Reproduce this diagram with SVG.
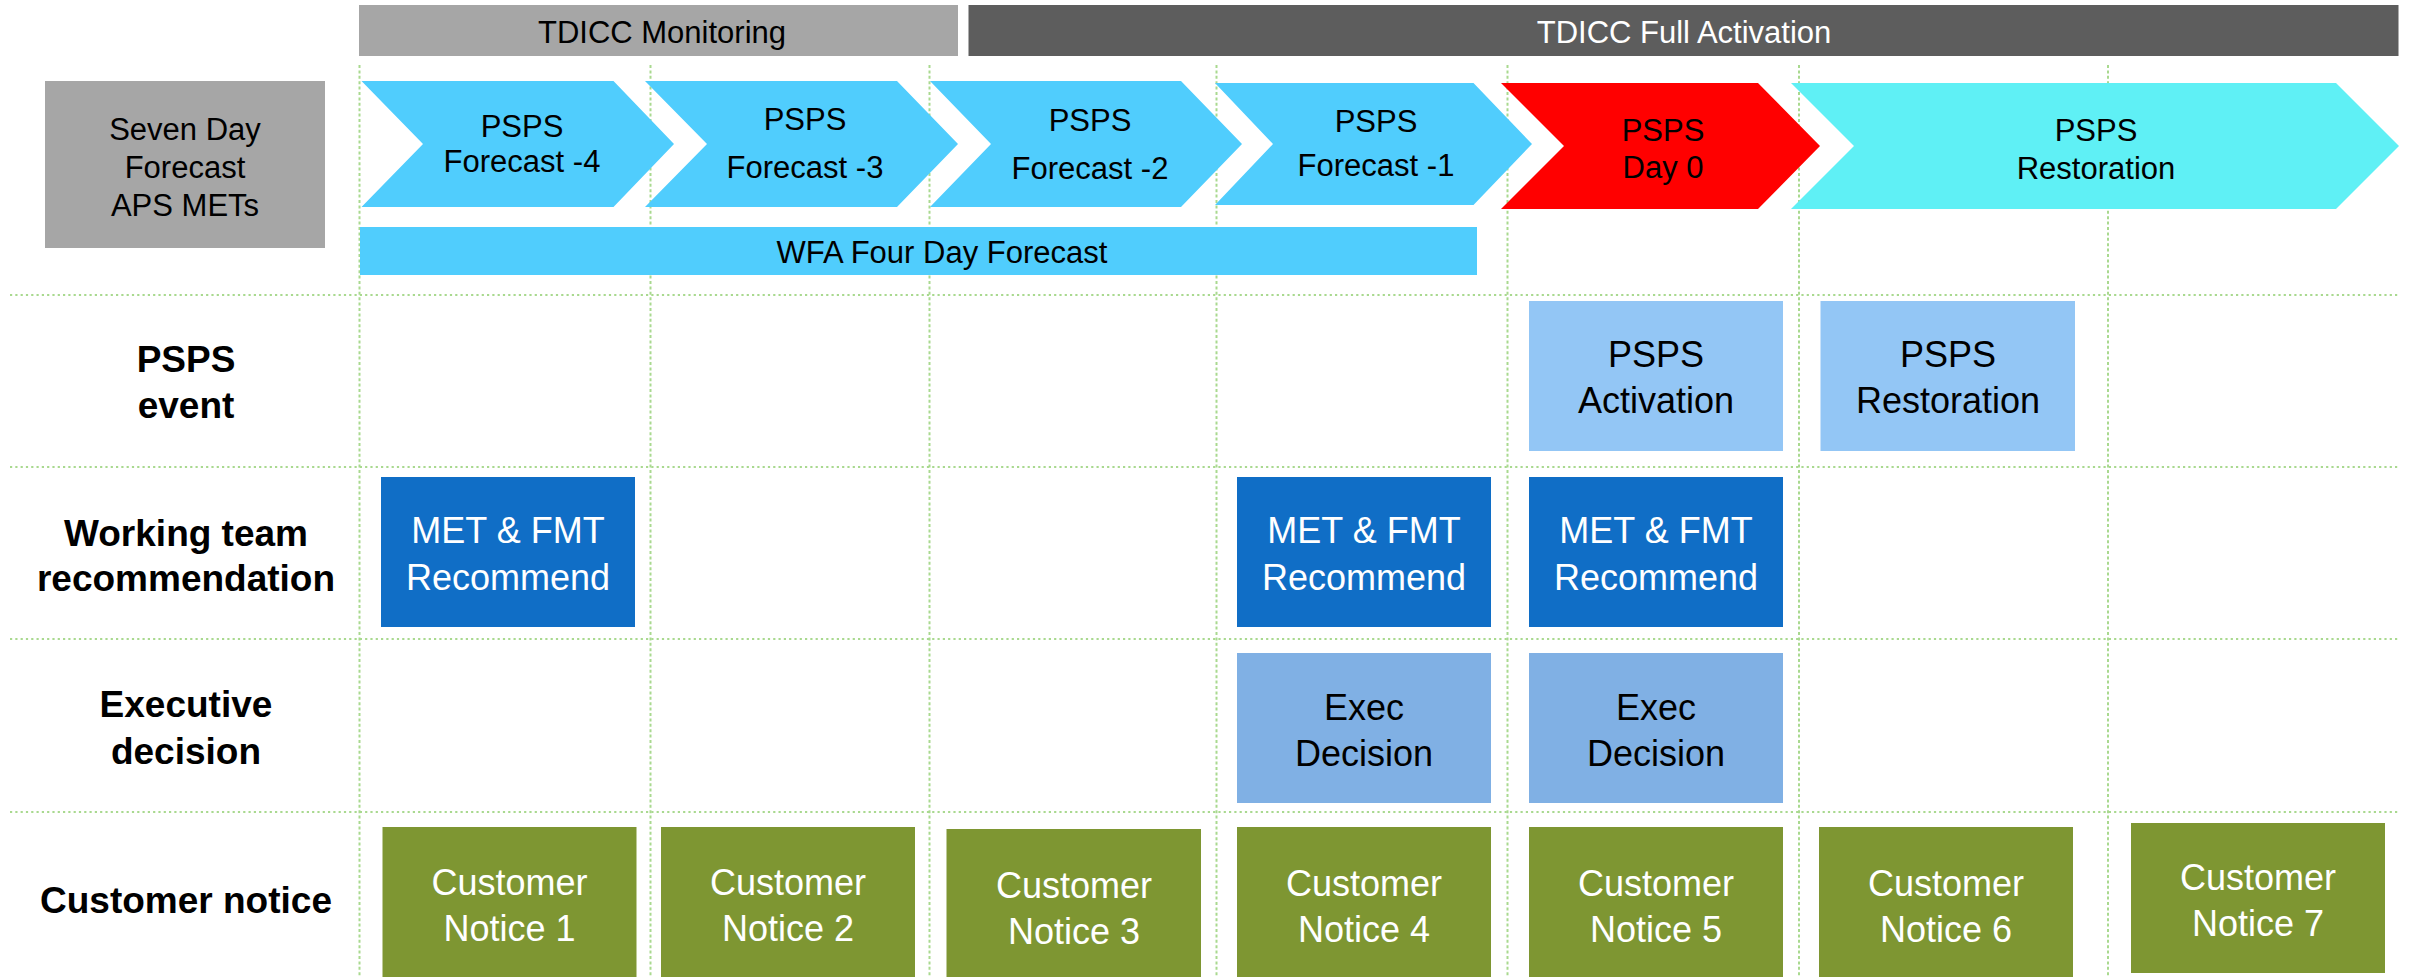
<svg xmlns="http://www.w3.org/2000/svg" width="2414" height="977" viewBox="0 0 2414 977">
<style>
text{font-family:"Liberation Sans",Arial,sans-serif;text-anchor:middle}
.t31{font-size:31px;fill:#000}
.w31{font-size:31px;fill:#fff}
.lbl{font-size:37px;font-weight:bold;fill:#000}
.bt{font-size:36px;fill:#000}
.wt{font-size:36px;fill:#fff}
.hl{stroke:#A9D98F;stroke-width:2.2;stroke-dasharray:2.2 3.1;fill:none}
.vl{stroke:#A9D98F;stroke-width:2;stroke-dasharray:3 2.4;fill:none}
.chev{fill:#50CDFD}
.evt{fill:#93C6F5}
.met{fill:#106EC6}
.exe{fill:#80B0E4}
.cn{fill:#7E9632}
</style>
<rect width="2414" height="977" fill="#fff"/>
<g id="grid">
<line class="hl" x1="10" y1="295" x2="2398" y2="295"/>
<line class="hl" x1="10" y1="467" x2="2398" y2="467"/>
<line class="hl" x1="10" y1="639" x2="2398" y2="639"/>
<line class="hl" x1="10" y1="812" x2="2398" y2="812"/>
<line class="vl" x1="359.5" y1="65" x2="359.5" y2="977"/>
<line class="vl" x1="650.5" y1="65" x2="650.5" y2="977"/>
<line class="vl" x1="929.5" y1="65" x2="929.5" y2="977"/>
<line class="vl" x1="1216.5" y1="65" x2="1216.5" y2="977"/>
<line class="vl" x1="1507.5" y1="65" x2="1507.5" y2="977"/>
<line class="vl" x1="1799" y1="65" x2="1799" y2="977"/>
<line class="vl" x1="2108" y1="65" x2="2108" y2="977"/>
</g>
<g id="connectors"></g>
<g id="tdicc-monitoring">
<rect x="359" y="5" width="599" height="51" fill="#A6A6A6"/>
<text class="t31" x="662" y="43">TDICC Monitoring</text>
</g>
<g id="tdicc-full">
<rect x="968.5" y="5" width="1430" height="51" fill="#5D5D5D"/>
<text class="w31" x="1684" y="43">TDICC Full Activation</text>
</g>
<g id="seven-day">
<rect x="45" y="81" width="280" height="167" fill="#A6A6A6"/>
<text class="t31" x="185" y="140">Seven Day</text>
<text class="t31" x="185" y="178">Forecast</text>
<text class="t31" x="185" y="216">APS METs</text>
</g>
<g id="forecast-4">
<polygon class="chev" points="361.5,81 613.5,81 674,144 613.5,207 361.5,207 423,144"/>
<text class="t31" x="522" y="137">PSPS</text>
<text class="t31" x="522" y="172">Forecast -4</text>
</g>
<g id="forecast-3">
<polygon class="chev" points="645,81 897,81 958,144 897,207 645,207 707,144"/>
<text class="t31" x="805" y="130">PSPS</text>
<text class="t31" x="805" y="178">Forecast -3</text>
</g>
<g id="forecast-2">
<polygon class="chev" points="930,81 1181,81 1242,144 1181,207 930,207 991,144"/>
<text class="t31" x="1090" y="131">PSPS</text>
<text class="t31" x="1090" y="179">Forecast -2</text>
</g>
<g id="forecast-1">
<polygon class="chev" points="1215,83 1473.5,83 1532,144 1473.5,205 1215,205 1273,144"/>
<text class="t31" x="1376" y="132">PSPS</text>
<text class="t31" x="1376" y="176">Forecast -1</text>
</g>
<g id="day-0">
<polygon fill="#FF0000" points="1501,83 1758,83 1820,146 1758,209 1501,209 1564,146"/>
<text class="t31" x="1663" y="141">PSPS</text>
<text class="t31" x="1663" y="178">Day 0</text>
</g>
<g id="restoration">
<polygon fill="#5FF0F5" points="1791,83 2336,83 2399,146 2336,209 1791,209 1854,146"/>
<text class="t31" x="2096" y="141">PSPS</text>
<text class="t31" x="2096" y="179">Restoration</text>
</g>
<g id="wfa">
<rect x="360" y="227" width="1117" height="48" fill="#50CDFD"/>
<text class="t31" x="942" y="263">WFA Four Day Forecast</text>
</g>
<g id="label-psps-event">
<text class="lbl" x="186" y="372">PSPS</text>
<text class="lbl" x="186" y="418">event</text>
</g>
<g id="label-working-team">
<text class="lbl" x="186" y="546">Working team</text>
<text class="lbl" x="186" y="591">recommendation</text>
</g>
<g id="label-executive">
<text class="lbl" x="186" y="717">Executive</text>
<text class="lbl" x="186" y="764">decision</text>
</g>
<g id="label-customer">
<text class="lbl" x="186" y="913">Customer notice</text>
</g>
<g id="psps-activation">
<rect class="evt" x="1529" y="301" width="254" height="150"/>
<text class="bt" x="1656" y="367">PSPS</text>
<text class="bt" x="1656" y="413">Activation</text>
</g>
<g id="psps-restoration">
<rect class="evt" x="1820.5" y="301" width="254.5" height="150"/>
<text class="bt" x="1948" y="367">PSPS</text>
<text class="bt" x="1948" y="413">Restoration</text>
</g>
<g id="met-1">
<rect class="met" x="381" y="477" width="254" height="150"/>
<text class="wt" x="508" y="543">MET &amp; FMT</text>
<text class="wt" x="508" y="590">Recommend</text>
</g>
<g id="met-2">
<rect class="met" x="1237" y="477" width="254" height="150"/>
<text class="wt" x="1364" y="543">MET &amp; FMT</text>
<text class="wt" x="1364" y="590">Recommend</text>
</g>
<g id="met-3">
<rect class="met" x="1529" y="477" width="254" height="150"/>
<text class="wt" x="1656" y="543">MET &amp; FMT</text>
<text class="wt" x="1656" y="590">Recommend</text>
</g>
<g id="exec-1">
<rect class="exe" x="1237" y="653" width="254" height="150"/>
<text class="bt" x="1364" y="720">Exec</text>
<text class="bt" x="1364" y="766">Decision</text>
</g>
<g id="exec-2">
<rect class="exe" x="1529" y="653" width="254" height="150"/>
<text class="bt" x="1656" y="720">Exec</text>
<text class="bt" x="1656" y="766">Decision</text>
</g>
<g id="notice-1">
<rect class="cn" x="382.5" y="827" width="254" height="150"/>
<text class="wt" x="509.5" y="895">Customer</text>
<text class="wt" x="509.5" y="941">Notice 1</text>
</g>
<g id="notice-2">
<rect class="cn" x="661" y="827" width="254" height="150"/>
<text class="wt" x="788" y="895">Customer</text>
<text class="wt" x="788" y="941">Notice 2</text>
</g>
<g id="notice-3">
<rect class="cn" x="946.5" y="829" width="254.5" height="148"/>
<text class="wt" x="1074" y="898">Customer</text>
<text class="wt" x="1074" y="944">Notice 3</text>
</g>
<g id="notice-4">
<rect class="cn" x="1237" y="827" width="254" height="150"/>
<text class="wt" x="1364" y="896">Customer</text>
<text class="wt" x="1364" y="942">Notice 4</text>
</g>
<g id="notice-5">
<rect class="cn" x="1529" y="827" width="254" height="150"/>
<text class="wt" x="1656" y="896">Customer</text>
<text class="wt" x="1656" y="942">Notice 5</text>
</g>
<g id="notice-6">
<rect class="cn" x="1819" y="827" width="254" height="150"/>
<text class="wt" x="1946" y="896">Customer</text>
<text class="wt" x="1946" y="942">Notice 6</text>
</g>
<g id="notice-7">
<rect class="cn" x="2131" y="823" width="254" height="150"/>
<text class="wt" x="2258" y="890">Customer</text>
<text class="wt" x="2258" y="936">Notice 7</text>
</g>
</svg>
